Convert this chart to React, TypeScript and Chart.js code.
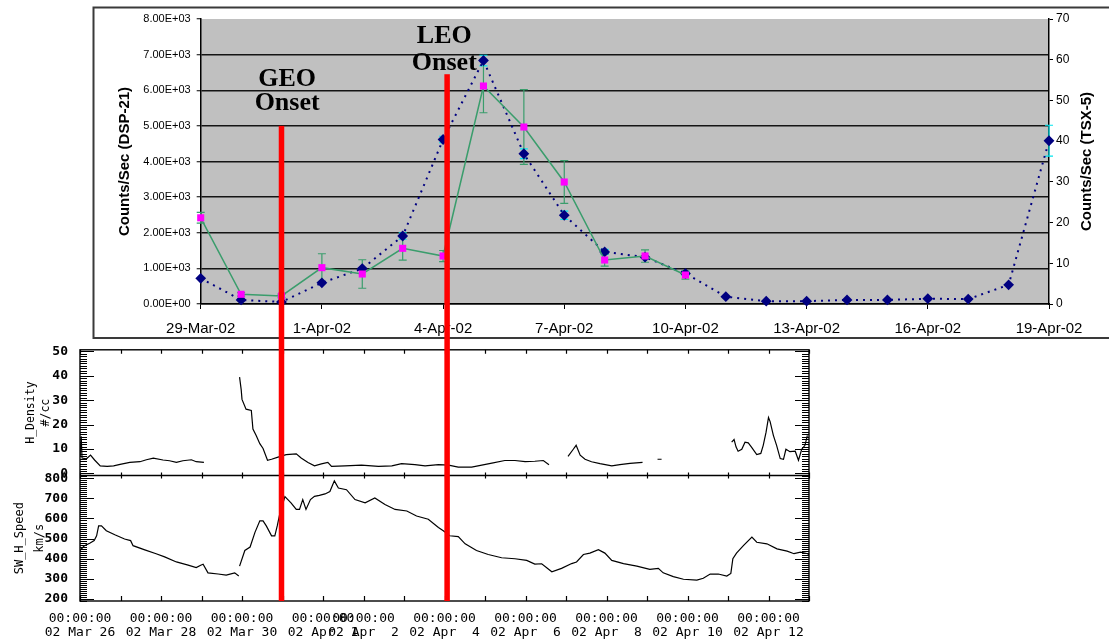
import React, { useEffect, useRef } from 'react';
import { Chart, registerables } from 'chart.js';

Chart.register(...registerables);
Chart.defaults.font.family = '"Liberation Sans", Arial, sans-serif';

// ---------- top panel (Excel style) ----------
const dayLabels = [
  '29-Mar-02', '30-Mar-02', '31-Mar-02', '1-Apr-02', '2-Apr-02', '3-Apr-02', '4-Apr-02',
  '5-Apr-02', '6-Apr-02', '7-Apr-02', '8-Apr-02', '9-Apr-02', '10-Apr-02', '11-Apr-02',
  '12-Apr-02', '13-Apr-02', '14-Apr-02', '15-Apr-02', '16-Apr-02', '17-Apr-02', '18-Apr-02', '19-Apr-02',
];
const dsp21Counts = [2420, 272, 225, 1020, 842, 1563, 1347, 6119, 4968, 3424, 1235, 1347, 814];
const dsp21Errors = [150, 50, 50, 390, 400, 330, 155, 750, 1050, 600, 170, 175, 115];
const tsx5Counts = [6.3, 1.0, 0.5, 5.2, 8.7, 16.7, 40.4, 59.8, 36.9, 21.8, 12.8, 11.5, 7.5, 1.8, 0.7, 0.7, 1.0, 1.0, 1.3, 1.2, 4.7, 40.1];
const tsx5Errors = [0, 0, 0, 0, 0, 0.8, 0.8, 1.3, 1.2, 1.0, 0.6, 0, 0.5, 0, 0, 0, 0, 0, 0, 0, 0, 3.8];

const onsetNames = ['GEO', 'LEO'];
const onsetDays = [2.0, 6.1];
const onsetTopCounts = [5000, 6450];
const onsetLabelDays = [2.14, 6.03];
const onsetLabelCounts = [[6316, 5642], [7523, 6765]];

// ---------- bottom panels (solar wind) ----------
const densityDays = [
  0.0, 0.03, 0.05, 0.16, 0.26, 0.36, 0.5, 0.67, 0.83, 0.99, 1.23, 1.48, 1.64, 1.81, 2.05, 2.21, 2.38, 2.54, 2.75, 2.87, 3.06,
  3.5,
  3.94, 3.98, 4.0, 4.1, 4.23, 4.27, 4.35, 4.44, 4.52, 4.63, 4.73, 4.89, 5.09, 5.34, 5.46, 5.63, 5.79, 5.96, 6.12, 6.21, 6.54,
  6.95, 7.37, 7.7, 7.94, 8.27, 8.52, 8.85, 9.1, 9.34, 9.67, 9.92, 10.17, 10.49, 10.74, 10.99, 11.23, 11.44, 11.58,
  11.8,
  12.05, 12.18, 12.25, 12.35, 12.47, 12.63, 12.84, 13.13, 13.33, 13.58, 13.89,
  14.1,
  14.26, 14.36,
  15.0,
  16.09, 16.15, 16.2, 16.25, 16.34, 16.42, 16.5, 16.58, 16.71, 16.81, 16.87, 16.94, 17.0, 17.04, 17.12, 17.2, 17.29, 17.37,
  17.43, 17.53, 17.66, 17.74, 17.82, 17.9, 17.96,
];
const densityValues = [
  6.8, 15.2, 6.3, 6.0, 7.5, 5.5, 3.1, 2.9, 3.1, 3.7, 4.5, 4.8, 5.6, 6.3, 5.5, 5.2, 4.5, 5.2, 5.6, 4.8, 4.5,
  null,
  39.4, 34.3, 30.3, 26.3, 25.8, 18.2, 15.5, 12.2, 10.2, 5.4, 5.8, 6.7, 7.7, 8.0, 6.3, 4.5, 3.1, 3.9, 4.5, 2.9, 3.1,
  3.4, 2.9, 3.1, 4.0, 3.6, 3.1, 3.6, 3.4, 2.6, 2.6, 3.4, 4.2, 5.3, 5.3, 4.8, 5.0, 5.3, 3.6,
  null,
  7.0, 9.9, 11.5, 7.5, 5.8, 4.8, 4.0, 3.1, 3.6, 4.1, 4.5,
  null,
  5.8, 5.8,
  null,
  12.8, 13.9, 10.8, 9.1, 9.9, 12.8, 12.5, 10.8, 7.7, 8.2, 11.5, 16.9, 22.9, 21.2, 15.6, 11.5, 6.1, 5.8,
  9.9, 8.9, 9.1, 5.4, 9.9, 11.5, 15.6,
];
const speedDays = [
  0.0, 0.11, 0.24, 0.35, 0.41, 0.46, 0.53, 0.65, 0.86, 1.1, 1.25, 1.31, 1.6, 1.88, 2.09, 2.38, 2.67, 2.87, 2.98, 3.04,
  3.16, 3.41, 3.61, 3.82, 3.92,
  3.93,
  3.94, 4.07, 4.2, 4.32, 4.44, 4.52, 4.6, 4.73, 4.81, 4.87, 4.93, 5.06, 5.21, 5.34, 5.42, 5.5, 5.58, 5.69, 5.79, 5.91,
  6.05, 6.17, 6.28, 6.38, 6.58, 6.79, 7.04, 7.28, 7.53, 7.78, 8.07, 8.31, 8.6, 8.85, 8.97, 9.13, 9.34, 9.51, 9.79,
  10.08, 10.41, 10.74, 11.03, 11.23, 11.4, 11.65, 11.89, 12.14, 12.26, 12.43, 12.59, 12.8, 12.96, 13.13, 13.42, 13.75,
  14.07, 14.28, 14.4, 14.65, 14.9, 15.23, 15.39, 15.56, 15.76, 15.97, 16.07, 16.12, 16.21, 16.38, 16.59, 16.71, 16.96,
  17.21, 17.46, 17.63, 17.79, 17.97, 18.0,
];
const speedValues = [
  441, 465, 477, 490, 514, 563, 563, 539, 519, 498, 490, 465, 444, 425, 409, 384, 368, 356, 368, 373,
  330, 324, 319, 330, 314,
  null,
  363, 441, 458, 531, 588, 588, 563, 514, 514, 563, 620, 709, 678, 645, 645, 694, 645, 694, 710, 715,
  722, 734, 787, 751, 743, 694, 678, 702, 669, 645, 637, 612, 596, 555, 539, 514, 510, 474, 441,
  421, 405, 400, 392, 373, 375, 335, 352, 376, 384, 421, 428, 445, 428, 392, 376, 363,
  347, 352, 330, 311, 298, 294, 303, 324, 324, 314, 327, 400, 428, 465, 507, 482, 474,
  449, 438, 425, 433, 425, 420,
];
const bottomTickDays = [0, 2, 4, 6, 7, 9, 11, 13, 15, 17];
const bottomTickDates = ['02 Mar 26', '02 Mar 28', '02 Mar 30', '02 Apr  1', '02 Apr  2', '02 Apr  4', '02 Apr  6', '02 Apr  8', '02 Apr 10', '02 Apr 12'];
const bottomTickTime = '00:00:00';
const densityMinorStep = 1;
const densityMajorStep = 10;
const speedMinorStep = 10;
const speedMajorStep = 100;
const bottomDayStep = 1;

const MONO = '"DejaVu Sans Mono", monospace';

function sci(v: number): string {
  if (v === 0) return '0.00E+00';
  const e = Math.floor(Math.log10(v) + 1e-9);
  const m = v / Math.pow(10, e);
  return m.toFixed(2) + 'E+' + String(e).padStart(2, '0');
}

const topDecor = {
  id: 'topDecor',
  beforeDraw(chart: any) {
    const { ctx, chartArea: a } = chart;
    ctx.save();
    ctx.fillStyle = '#c0c0c0';
    ctx.fillRect(a.left, a.top, a.right - a.left, a.bottom - a.top);
    ctx.strokeStyle = '#3a3a3a';
    ctx.lineWidth = 2;
    ctx.beginPath();
    ctx.moveTo(chart.width + 5, 1.5);
    ctx.lineTo(1.5, 1.5);
    ctx.lineTo(1.5, 332);
    ctx.lineTo(chart.width + 5, 332);
    ctx.stroke();
    ctx.restore();
  },
  beforeDatasetsDraw(chart: any) {
    const { ctx, scales } = chart;
    const xs = scales.x;
    const draw = (ys: any, vals: (number | null)[], errs: number[], color: string) => {
      ctx.strokeStyle = color;
      ctx.lineWidth = 1.2;
      ctx.beginPath();
      vals.forEach((v, i) => {
        const e = errs[i];
        if (v == null || !e) return;
        const px = xs.getPixelForValue(i);
        const y1 = ys.getPixelForValue(v + e);
        const y2 = ys.getPixelForValue(Math.max(0, v - e));
        ctx.moveTo(px, y1); ctx.lineTo(px, y2);
        ctx.moveTo(px - 4, y1); ctx.lineTo(px + 4, y1);
        ctx.moveTo(px - 4, y2); ctx.lineTo(px + 4, y2);
      });
      ctx.stroke();
    };
    ctx.save();
    draw(scales.yRight, tsx5Counts, tsx5Errors, '#00e5ee');
    draw(scales.yLeft, dsp21Counts, dsp21Errors, '#3a9d6c');
    ctx.restore();
  },
  afterDraw(chart: any) {
    const { ctx, chartArea: a, scales } = chart;
    const xs = scales.x;
    const yl = scales.yLeft;
    ctx.save();
    onsetDays.forEach((d, i) => {
      const px = xs.getPixelForValue(d);
      const py = yl.getPixelForValue(onsetTopCounts[i]);
      ctx.fillStyle = '#ff0000';
      ctx.fillRect(px - 2.75, py, 5.5, chart.height - py);
    });
    ctx.fillStyle = '#000';
    ctx.font = 'bold 26px "Liberation Serif", "Times New Roman", serif';
    ctx.textAlign = 'center';
    ctx.textBaseline = 'middle';
    onsetNames.forEach((name, i) => {
      const tx = xs.getPixelForValue(onsetLabelDays[i]);
      ctx.fillText(name, tx, yl.getPixelForValue(onsetLabelCounts[i][0]));
      ctx.fillText('Onset', tx, yl.getPixelForValue(onsetLabelCounts[i][1]));
    });
    ctx.translate(a.right + 38, (a.top + a.bottom) / 2);
    ctx.rotate(-Math.PI / 2);
    ctx.font = 'bold 15px "Liberation Sans", Arial, sans-serif';
    ctx.fillText('Counts/Sec (TSX-5)', 0, 0);
    ctx.restore();
  },
};

const bottomFrame = {
  id: 'bottomFrame',
  afterDatasetsDraw(chart: any) {
    const { ctx, chartArea: a, scales } = chart;
    const xs = scales.x;
    const dens = scales.density;
    const spd = scales.speed;
    const mid = Math.round(dens.bottom) + 0.5;
    ctx.save();
    ctx.strokeStyle = '#000';
    ctx.lineWidth = 1.4;
    ctx.strokeRect(a.left, a.top, a.right - a.left, a.bottom - a.top);
    ctx.beginPath();
    ctx.moveTo(a.left, mid); ctx.lineTo(a.right, mid);
    ctx.stroke();
    ctx.lineWidth = 1.2;
    ctx.beginPath();
    for (let d = xs.min; d <= xs.max + 1e-9; d += bottomDayStep) {
      const px = Math.round(xs.getPixelForValue(d)) + 0.5;
      ctx.moveTo(px, a.top); ctx.lineTo(px, a.top + 4);
      ctx.moveTo(px, mid - 3); ctx.lineTo(px, mid + 3);
      ctx.moveTo(px, a.bottom - 5); ctx.lineTo(px, a.bottom);
    }
    ctx.stroke();
    ctx.lineWidth = 1;
    const combs: [any, number, number][] = [[dens, densityMinorStep, densityMajorStep], [spd, speedMinorStep, speedMajorStep]];
    combs.forEach(([s, minor, major]) => {
      ctx.beginPath();
      for (let v = Math.ceil(s.min / minor) * minor; v <= s.max; v += minor) {
        const py = Math.round(s.getPixelForValue(v)) + 0.5;
        const len = Math.abs(v % major) < 1e-6 ? 14 : 7;
        ctx.moveTo(a.left, py); ctx.lineTo(a.left + len, py);
        ctx.moveTo(a.right - len, py); ctx.lineTo(a.right, py);
      }
      ctx.stroke();
    });
    ctx.restore();
  },
};

export default function App() {
  const topRef = useRef<HTMLCanvasElement>(null);
  const botRef = useRef<HTMLCanvasElement>(null);

  useEffect(() => {
    const top = new Chart(topRef.current as HTMLCanvasElement, {
      type: 'line',
      data: {
        datasets: [
          {
            label: 'DSP-21',
            data: dsp21Counts.map((v, i) => ({ x: i, y: v })),
            yAxisID: 'yLeft',
            borderColor: '#3a9d6c',
            borderWidth: 1.5,
            pointStyle: 'rect',
            pointRadius: 5,
            pointBackgroundColor: '#ff00ff',
            pointBorderColor: '#ff00ff',
            pointBorderWidth: 0,
            clip: false,
          },
          {
            label: 'TSX-5',
            data: tsx5Counts.map((v, i) => ({ x: i, y: v })),
            yAxisID: 'yRight',
            borderColor: '#000080',
            borderDash: [2, 5],
            borderWidth: 2,
            pointStyle: 'rectRot',
            pointRadius: 4,
            pointBackgroundColor: '#000080',
            pointBorderColor: '#000080',
            clip: false,
          },
        ],
      } as any,
      options: {
        responsive: false,
        animation: false,
        devicePixelRatio: 1,
        layout: { padding: { top: 13, left: 0, right: 0, bottom: 0 } },
        plugins: { legend: { display: false }, tooltip: { enabled: false } },
        scales: {
          x: {
            type: 'linear',
            min: 0,
            max: 21,
            ticks: {
              stepSize: 3,
              autoSkip: false,
              maxRotation: 0,
              callback: (v: any) => dayLabels[v] ?? '',
              font: { size: 15 },
              color: '#000',
              padding: 11,
            },
            grid: { drawOnChartArea: false, drawTicks: true, tickLength: 5, color: '#000' },
            border: { color: '#000', width: 1.5 },
            afterFit: (s: any) => { s.height = 297; },
          },
          yLeft: {
            type: 'linear',
            position: 'left',
            min: 0,
            max: 8000,
            ticks: { stepSize: 1000, autoSkip: false, callback: (v: any) => sci(Number(v)), font: { size: 11 }, color: '#000', padding: 6 },
            grid: {
              color: (c: any) => (c.tick && c.tick.value === 8000 ? 'rgba(0,0,0,0)' : '#141414'),
              lineWidth: 1.5,
              tickColor: '#000',
              tickLength: 4,
              tickWidth: 1,
            },
            border: { color: '#000', width: 1.5 },
            title: {
              display: true,
              text: 'Counts/Sec (DSP-21)',
              font: { size: 15, weight: 'bold' },
              color: '#000',
              padding: { top: 24, bottom: 0 },
            },
            afterFit: (s: any) => { s.width = 108.7; },
          },
          yRight: {
            type: 'linear',
            position: 'right',
            min: 0,
            max: 70,
            ticks: { stepSize: 10, autoSkip: false, font: { size: 12 }, color: '#000', padding: 3 },
            grid: { drawOnChartArea: false, tickLength: 4, color: '#000' },
            border: { color: '#000', width: 1.5 },
            afterFit: (s: any) => { s.width = 60; },
          },
        },
      } as any,
      plugins: [topDecor],
    });

    const bottom = new Chart(botRef.current as HTMLCanvasElement, {
      type: 'line',
      data: {
        datasets: [
          {
            label: 'SW_H_Speed',
            data: speedDays.map((d, i) => ({ x: d, y: speedValues[i] })),
            yAxisID: 'speed',
            borderColor: '#000',
            borderWidth: 1.2,
            pointRadius: 0,
            spanGaps: false,
          },
          {
            label: 'H_Density',
            data: densityDays.map((d, i) => ({ x: d, y: densityValues[i] })),
            yAxisID: 'density',
            borderColor: '#000',
            borderWidth: 1.2,
            pointRadius: 0,
            spanGaps: false,
          },
        ],
      } as any,
      options: {
        responsive: false,
        animation: false,
        devicePixelRatio: 1,
        layout: { padding: { top: 8, right: 21, left: 0, bottom: 0 } },
        plugins: { legend: { display: false }, tooltip: { enabled: false } },
        scales: {
          x: {
            type: 'linear',
            min: 0,
            max: 18,
            ticks: {
              stepSize: 1,
              autoSkip: false,
              maxRotation: 0,
              callback: (v: any) => {
                const k = bottomTickDays.indexOf(Number(v));
                return k < 0 ? '' : [bottomTickTime, bottomTickDates[k]];
              },
              font: { family: MONO, size: 13, lineHeight: 1.05 },
              color: '#000',
              padding: 3,
            },
            grid: { display: false },
            border: { display: false },
            afterFit: (s: any) => { s.height = 39; },
          },
          speed: {
            type: 'linear',
            position: 'left',
            stack: 'sw',
            stackWeight: 1,
            min: 190,
            max: 814,
            ticks: { stepSize: 100, autoSkip: false, includeBounds: false, font: { family: MONO, size: 13, weight: 'bold' }, color: '#000', padding: 4 },
            grid: { display: false },
            border: { display: false },
            title: {
              display: true,
              text: ['SW_H_Speed', 'km/s'],
              font: { family: MONO, size: 12, lineHeight: 1.65 },
              color: '#000',
              padding: { top: 10, bottom: 0 },
            },
            afterFit: (s: any) => { s.width = 80; },
          },
          density: {
            type: 'linear',
            position: 'left',
            stack: 'sw',
            stackWeight: 1,
            min: -0.8,
            max: 50.6,
            ticks: { stepSize: 10, autoSkip: false, includeBounds: false, font: { family: MONO, size: 13, weight: 'bold' }, color: '#000', padding: 4 },
            grid: { display: false },
            border: { display: false },
            title: {
              display: true,
              text: ['H_Density', '#/cc'],
              font: { family: MONO, size: 11.5, lineHeight: 1.3 },
              color: '#000',
              padding: { top: 23.5, bottom: 0 },
            },
            afterFit: (s: any) => { s.width = 80; },
          },
        },
      } as any,
      plugins: [bottomFrame],
    });

    return () => {
      top.destroy();
      bottom.destroy();
    };
  }, []);

  return (
    <div style={{ position: 'fixed', left: 0, top: 0, width: 1109, height: 640, background: '#fff', overflow: 'hidden' }}>
      <canvas
        ref={botRef}
        width={830}
        height={302}
        style={{ position: 'absolute', left: 0, top: 338, width: 830, height: 302, zIndex: 1 }}
      />
      <canvas
        ref={topRef}
        width={1017}
        height={595}
        style={{ position: 'absolute', left: 92, top: 6, width: 1017, height: 595, zIndex: 2 }}
      />
    </div>
  );
}
